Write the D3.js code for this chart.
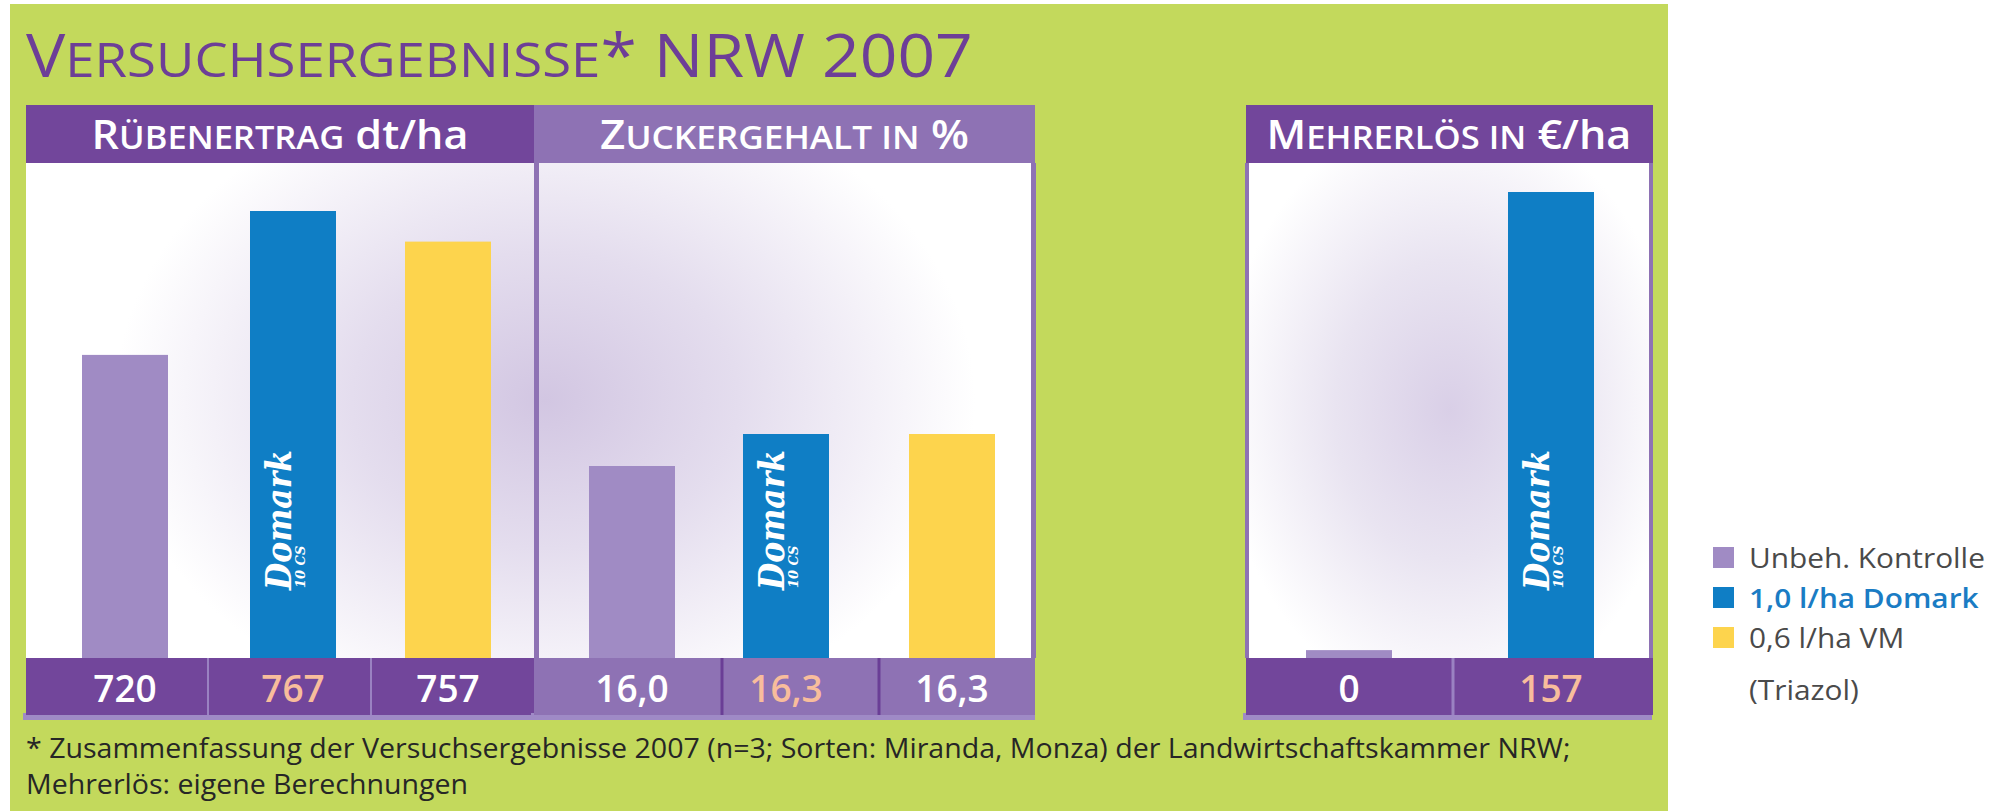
<!DOCTYPE html>
<meta charset="utf-8">
<style>
body { margin: 0; background: #fff; }
text { font-family: "Open Sans", sans-serif; }
</style>
<body>
<script src="https://d3js.org/d3.v7.min.js"></script>
<script>

var width = 2008
var height = 811

// data
var treatments = ["Unbeh. Kontrolle", "1,0 l/ha Domark", "0,6 l/ha VM"]
var ertrag = [720, 767, 757]
var zucker = [16.0, 16.3, 16.3]
var mehrerloes = [0, 157]
var legendLabels = ["Unbeh. Kontrolle", "1,0 l/ha Domark", "0,6 l/ha VM", "(Triazol)"]
var titleParts = ["V", "ERSUCHSERGEBNISSE", "* NRW 2007"]
var headers = [["R", "ÜBENERTRAG", " dt/ha"], ["Z", "UCKERGEHALT IN", " %"], ["M", "EHRERLÖS IN", " €/ha"]]
var footnote = [
  "* Zusammenfassung der Versuchsergebnisse 2007 (n=3; Sorten: Miranda, Monza) der Landwirtschaftskammer NRW;",
  "Mehrerlös: eigene Berechnungen"
]

var barColors = ["#a08bc4", "#0f7ec5", "#fdd44d"]
var labelColors = ["#ffffff", "#f8bd9c", "#ffffff"]
var dark = "#72469b", light = "#8e72b4"

var de = d3.formatLocale({decimal: ",", thousands: ".", grouping: [3], currency: ["", " €"]})

var panels = [
  {values: ertrag, fmt: de.format("d"), x0: 26, x1: 534, centers: [125, 293, 448], seps: [208, 371], domain: [621, 767], top: 211,
   head: dark, row: dark, sep: "#9a82c2", sepW: 2, fit: 377},
  {values: zucker, fmt: de.format(".1f"), x0: 534, x1: 1035, centers: [632, 786, 952], seps: [722, 879], domain: [14.2, 16.3], top: 434,
   head: light, row: light, sep: "#6a3e96", sepW: 3, fit: 369},
  {values: mehrerloes, fmt: de.format("d"), x0: 1246, x1: 1652, centers: [1349, 1551], seps: [1453], domain: [-2.7, 157], top: 192,
   head: dark, row: dark, sep: "#9a82c2", sepW: 3, fit: 365}
]

var headTop = 105, plotTop = 163, base = 658, rowBottom = 715, barW = 86

var svg = d3.select("body").append("svg")
    .attr("width", width)
    .attr("height", height)

var defs = svg.append("defs")

function radial(id, cx, cy, rx, ry, stops) {
  var g = defs.append("radialGradient")
      .attr("id", id)
      .attr("gradientUnits", "userSpaceOnUse")
      .attr("cx", 0).attr("cy", 0).attr("r", 1)
      .attr("gradientTransform", "translate(" + cx + "," + cy + ") scale(" + rx + "," + ry + ")")
  stops.forEach(function(s) {
    g.append("stop").attr("offset", s[0]).attr("stop-color", s[1])
  })
}
radial("glow12", 545, 400, 430, 330, [[0, "#d2c6e2"], [0.45, "#e4ddee"], [1, "#ffffff"]])
radial("glow3", 1450, 410, 230, 300, [[0, "#d9cfe7"], [0.5, "#e9e4f1"], [1, "#ffffff"]])

// green card
svg.append("rect")
    .attr("x", 10).attr("y", 4)
    .attr("width", 1658).attr("height", 807)
    .attr("fill", "#c3d95c")

// scale a text horizontally around its anchor x, returns the factor used
function fitWidth(sel, x, w, k) {
  if (!k) k = w / sel.node().getBBox().width
  sel.attr("transform", "translate(" + x + ",0) scale(" + k + ",1) translate(" + (-x) + ",0)")
  return k
}

// title
var title = svg.append("text")
    .attr("x", 26).attr("y", 77)
    .attr("fill", "#6d3e97")
    .style("font-size", "60px")
title.append("tspan").text(titleParts[0])
title.append("tspan").style("font-size", "48px").text(titleParts[1])
title.append("tspan").text(titleParts[2])
fitWidth(title, 26, 947)

// plot backgrounds
svg.append("rect")
    .attr("x", 26).attr("y", plotTop)
    .attr("width", 1035 - 26).attr("height", base - plotTop)
    .attr("fill", "url(#glow12)")
svg.append("rect")
    .attr("x", 1246).attr("y", plotTop)
    .attr("width", 1652 - 1246).attr("height", base - plotTop)
    .attr("fill", "url(#glow3)")

// borders around plot areas
svg.append("rect").attr("x", 534).attr("y", plotTop).attr("width", 5).attr("height", base - plotTop).attr("fill", light)
svg.append("rect").attr("x", 1031).attr("y", plotTop).attr("width", 5).attr("height", base - plotTop).attr("fill", light)
svg.append("rect").attr("x", 1245).attr("y", plotTop).attr("width", 4).attr("height", base - plotTop).attr("fill", light)
svg.append("rect").attr("x", 1649).attr("y", plotTop).attr("width", 4).attr("height", base - plotTop).attr("fill", light)

panels.forEach(function(p, pi) {
  var cats = treatments.slice(0, p.values.length)
  var x = d3.scaleOrdinal().domain(cats).range(p.centers)
  var y = d3.scaleLinear().domain(p.domain).range([base, p.top])

  // header band
  svg.append("rect")
      .attr("x", p.x0).attr("y", headTop)
      .attr("width", p.x1 - p.x0 + (pi == 2 ? 1 : 0)).attr("height", plotTop - headTop)
      .attr("fill", p.head)
  var cx = (p.x0 + p.x1) / 2
  var h = svg.append("text")
      .attr("x", cx).attr("y", 149)
      .attr("text-anchor", "middle")
      .attr("fill", "#fff")
      .style("font-size", "40px")
      .style("font-weight", 600)
  h.append("tspan").text(headers[pi][0])
  h.append("tspan").style("font-size", "32px").text(headers[pi][1])
  h.append("tspan").text(headers[pi][2])
  fitWidth(h, cx, p.fit)

  // bars
  svg.selectAll(null)
    .data(p.values)
    .join("rect")
      .attr("x", function(d, i) { return x(cats[i]) - barW / 2 })
      .attr("y", function(d) { return y(d) })
      .attr("width", barW)
      .attr("height", function(d) { return base - y(d) })
      .attr("fill", function(d, i) { return barColors[i] })

  // Domark logo on the blue bar
  var lx = x(cats[1])
  var logo = svg.append("g")
      .attr("transform", "translate(" + (lx - 2) + "," + (base - 68) + ") rotate(-90)")
      .attr("fill", "#fff")
  logo.append("text")
      .style("font-family", "DejaVu Serif")
      .style("font-style", "italic")
      .style("font-weight", "bold")
      .style("font-size", "36px")
      .attr("textLength", 140)
      .attr("lengthAdjust", "spacingAndGlyphs")
      .text("Domark")
  logo.append("text")
      .attr("x", 2).attr("y", 14)
      .style("font-family", "DejaVu Serif")
      .style("font-style", "italic")
      .style("font-weight", "bold")
      .style("font-size", "13px")
      .text("10 CS")

  // value row
  svg.append("rect")
      .attr("x", p.x0 - 3).attr("y", rowBottom - 2)
      .attr("width", p.x1 - p.x0 + 3).attr("height", 7)
      .attr("fill", "#9f8ac6")
  svg.append("rect")
      .attr("x", p.x0).attr("y", base)
      .attr("width", p.x1 - p.x0 + (pi == 2 ? 1 : 0)).attr("height", rowBottom - base)
      .attr("fill", p.row)

  // cell separators
  p.seps.forEach(function(sx) {
    svg.append("rect")
        .attr("x", sx - p.sepW / 2).attr("y", base)
        .attr("width", p.sepW).attr("height", rowBottom - base)
        .attr("fill", p.sep)
  })

  svg.selectAll(null)
    .data(p.values)
    .join("text")
      .attr("x", function(d, i) { return x(cats[i]) })
      .attr("y", 702)
      .attr("text-anchor", "middle")
      .attr("fill", function(d, i) { return labelColors[i] })
      .style("font-size", "37px")
      .style("font-weight", 600)
      .text(function(d) { return p.fmt(d) })
})

// footnote
var fk
footnote.forEach(function(t, i) {
  var f = svg.append("text")
      .attr("x", 26).attr("y", 758 + i * 36)
      .attr("fill", "#262626")
      .style("font-size", "28px")
      .text(t)
  fk = fitWidth(f, 26, 1545, fk)
})

// legend
var lg = svg.append("g").attr("transform", "translate(1713,547)")
var lk
legendLabels.forEach(function(t, i) {
  if (i < 3) {
    lg.append("rect")
        .attr("x", 0).attr("y", i * 40)
        .attr("width", 21).attr("height", 21)
        .attr("fill", barColors[i])
  }
  var lt = lg.append("text")
      .attr("x", 36).attr("y", i * 40 + 21 + (i == 3 ? 12 : 0))
      .attr("fill", i == 1 ? "#1a7cc4" : "#4a4a4a")
      .style("font-size", "27px")
      .style("font-weight", i == 1 ? 600 : 400)
      .text(t)
  lk = fitWidth(lt, 36, 236, lk)
})

</script>
